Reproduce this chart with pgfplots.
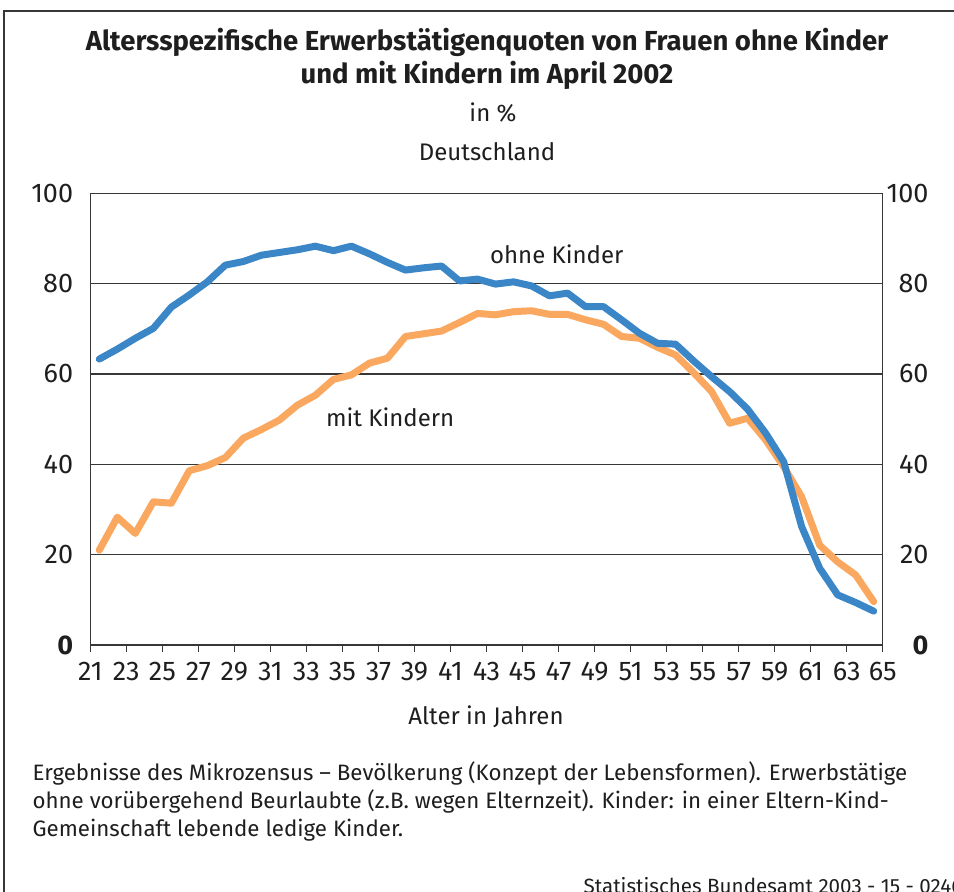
\documentclass[border=0pt]{standalone}
\usepackage{fontspec}
\setmainfont{Fira Sans}
\usepackage{pgfplots}
\pgfplotsset{compat=1.18}
\usepackage{pgfplotstable}
\definecolor{blueline}{RGB}{58,134,199}
\definecolor{orangeline}{RGB}{250,168,96}
\definecolor{gridc}{RGB}{55,55,55}
\definecolor{txt}{RGB}{30,30,30}
\pgfplotstableread{
age ohne mit
21 63.3 21.0
22 65.5 28.3
23 67.9 24.7
24 70.1 31.7
25 74.8 31.4
26 77.5 38.6
27 80.4 39.7
28 84.1 41.5
29 84.9 45.8
30 86.3 47.7
31 86.9 49.8
32 87.5 53.1
33 88.3 55.3
34 87.3 58.8
35 88.3 59.8
36 86.6 62.4
37 84.7 63.5
38 83.0 68.3
39 83.5 68.9
40 83.9 69.5
41 80.6 71.4
42 81.0 73.4
43 79.9 73.1
44 80.4 73.8
45 79.5 74.0
46 77.3 73.2
47 77.9 73.2
48 74.9 72.0
49 74.9 71.0
50 72.0 68.3
51 69.0 67.9
52 66.8 65.9
53 66.6 64.2
54 62.9 60.3
55 59.4 56.1
56 56.1 49.1
57 52.2 50.2
58 46.9 45.4
59 40.6 39.5
60 26.2 32.8
61 17.0 22.1
62 11.1 18.4
63 9.4 15.5
64 7.5 9.6
}\data
\begin{document}
\begin{tikzpicture}
\useasboundingbox (0pt,0pt) rectangle (954pt,-892pt);
\draw[gridc, line width=2pt] (4pt,-900pt) -- (4pt,-11pt) -- (960pt,-11pt);
\node[font=\bfseries\fontsize{27.5}{27.5}\selectfont, text=txt, anchor=base] at (487pt,-50pt) {Altersspezifische Erwerbstätigenquoten von Frauen ohne Kinder};
\node[font=\bfseries\fontsize{27.5}{27.5}\selectfont, text=txt, anchor=base] at (487pt,-83pt) {und mit Kindern im April 2002};
\node[font=\fontsize{24}{24}\selectfont, text=txt, anchor=base] at (493pt,-121pt) {in \%};
\node[font=\fontsize{24}{24}\selectfont, text=txt, anchor=base] at (487pt,-160pt) {Deutschland};
\begin{axis}[at={(90.3pt,-645pt)}, anchor=south west, scale only axis,
  width=792.4pt, height=451.7pt,
  xmin=21, xmax=65, ymin=0, ymax=100,
  xtick={21,23,...,65}, ytick={0,20,...,100},
  yticklabels={\textbf{0},20,40,60,80,100},
  ymajorgrids, grid style={gridc, line width=1.3pt},
  axis line style={gridc, line width=1.5pt},
  tick align=outside, xtick pos=bottom, ytick pos=left,
  ytick style={draw=none}, xtick style={gridc, line width=1.3pt},
  major tick length=7pt,
  ticklabel style={font=\fontsize{27}{27}\selectfont, text=txt},
  yticklabel style={anchor=east, inner sep=0pt, xshift=-10pt},
  xticklabel style={yshift=-7pt},
  /pgf/number format/assume math mode=true,
  clip=false]
\addplot[orangeline, line width=7pt, line join=round, line cap=round] table[x expr=\thisrow{age}+0.5, y=mit] {\data};
\addplot[blueline, line width=7pt, line join=round, line cap=round] table[x expr=\thisrow{age}+0.5, y=ohne] {\data};
\draw[gridc, line width=2.5pt] (axis cs:21,0) -- (axis cs:65,0);
\node[font=\fontsize{24}{24}\selectfont, text=txt] at (axis cs:46.9,86.6) {ohne Kinder};
\node[font=\fontsize{24}{24}\selectfont, text=txt] at (axis cs:37.65,50.5) {mit Kindern};
\end{axis}
\begin{axis}[at={(90.3pt,-645pt)}, anchor=south west, scale only axis,
  width=792.4pt, height=451.7pt,
  xmin=21, xmax=65, ymin=0, ymax=100,
  xtick=\empty, ytick={0,20,...,100},
  yticklabels={\textbf{0},20,40,60,80,100},
  axis line style={draw=none},
  ytick pos=right, yticklabel pos=right,
  ytick style={draw=none},
  ticklabel style={font=\fontsize{27}{27}\selectfont, text=txt},
  yticklabel style={anchor=east, inner sep=0pt, xshift=46pt},
  /pgf/number format/assume math mode=true]
\end{axis}
\node[font=\fontsize{24}{24}\selectfont, text=txt] at (486pt,-717pt) {Alter in Jahren};
\node[font=\fontsize{22.3}{22.3}\selectfont, text=txt, anchor=base west] at (29pt,-780pt) {Ergebnisse des Mikrozensus – Bevölkerung (Konzept der Lebensformen). Erwerbstätige};
\node[font=\fontsize{22.3}{22.3}\selectfont, text=txt, anchor=base west] at (29pt,-808pt) {ohne vorübergehend Beurlaubte (z.B. wegen Elternzeit). Kinder: in einer Eltern-Kind-};
\node[font=\fontsize{22.3}{22.3}\selectfont, text=txt, anchor=base west] at (29pt,-836pt) {Gemeinschaft lebende ledige Kinder.};
\node[font=\fontsize{20.6}{20.6}\selectfont, text=txt, anchor=base west] at (580pt,-893pt) {Statistisches Bundesamt 2003 - 15 - 0246};
\end{tikzpicture}
\end{document}
